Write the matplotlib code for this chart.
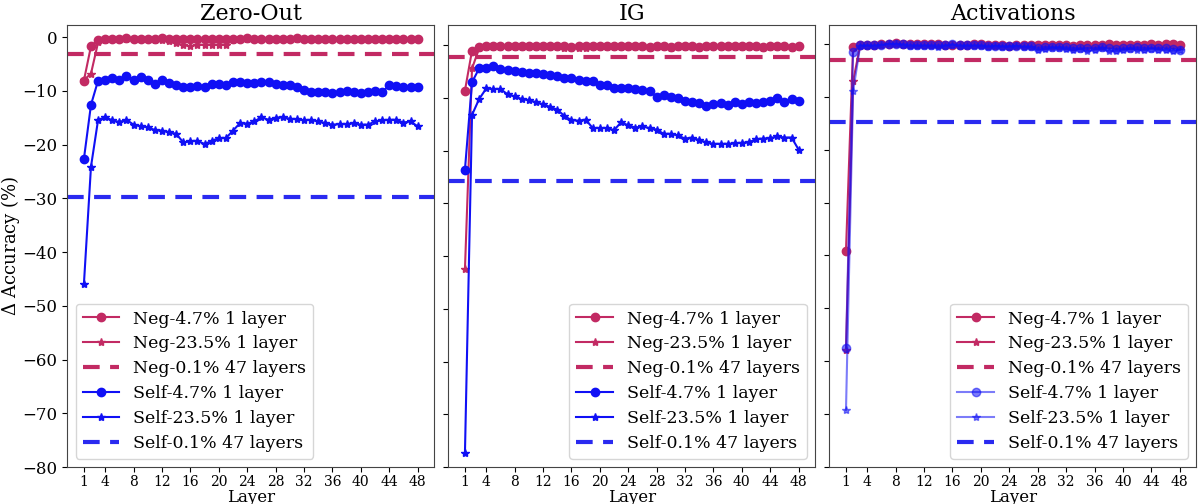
import numpy as np
import matplotlib
matplotlib.use("Agg")
import matplotlib.pyplot as plt


# --------------------------------------------------
# Data
# --------------------------------------------------

layers = list(range(1, 49))
xticks = [1, 4, 8, 12, 16, 20, 24, 28, 32, 36, 40, 44, 48]
titles = ["Zero-Out", "IG", "Activations"]

# Zero-Out
zo_neg_47 = [-8.1, -1.7, -0.6, -0.3, -0.3, -0.3, -0.2, -0.3, -0.3, -0.3,
             -0.3, -0.2, -0.3, -0.3, -0.3, -0.4, -0.3, -0.3, -0.4, -0.4,
             -0.3, -0.3, -0.4, -0.2, -0.3, -0.3, -0.4, -0.3, -0.3, -0.3,
             -0.2, -0.4, -0.3, -0.3, -0.3, -0.3, -0.3, -0.3, -0.3, -0.3,
             -0.3, -0.3, -0.3, -0.3, -0.3, -0.3, -0.3, -0.3]
zo_neg_235 = [-8.0, -6.8, -1.0, -0.5, -0.4, -0.4, -0.4, -0.4, -0.4, -0.4,
              -0.5, -0.5, -0.8, -1.2, -1.5, -1.7, -1.4, -1.5, -1.4, -1.5,
              -1.4, -0.6, -0.4, -0.4, -0.4, -0.4, -0.5, -0.4, -0.4, -0.4,
              -0.4, -0.4, -0.4, -0.4, -0.4, -0.4, -0.4, -0.4, -0.4, -0.4,
              -0.4, -0.4, -0.4, -0.4, -0.4, -0.4, -0.4, -0.4]
zo_self_47 = [-22.7, -12.6, -8.1, -8.0, -7.7, -7.9, -7.2, -8.0, -7.5, -8.0,
              -8.7, -8.0, -8.5, -9.0, -9.3, -9.3, -9.1, -9.3, -8.8, -8.8,
              -8.9, -8.3, -8.3, -8.6, -8.5, -8.4, -8.4, -8.8, -8.9, -9.0,
              -9.3, -9.9, -10.2, -10.3, -10.3, -10.5, -10.2, -10.0, -10.2, -10.4,
              -10.3, -10.1, -10.2, -9.0, -9.1, -9.3, -9.3, -9.2]
zo_self_235 = [-46.0, -24.1, -15.4, -14.9, -15.5, -15.8, -15.4, -16.3, -16.6, -16.8,
               -17.3, -17.4, -17.7, -18.0, -19.6, -19.4, -19.3, -19.9, -19.3, -18.8,
               -18.8, -17.4, -16.0, -16.1, -15.7, -14.9, -15.4, -15.0, -14.9, -15.2,
               -15.3, -15.5, -15.4, -15.7, -16.0, -16.3, -16.2, -16.2, -16.0, -16.3,
               -16.3, -15.7, -15.5, -15.4, -15.4, -15.9, -15.7, -16.6]
zo_neg_all = -3.1
zo_self_all = -29.8

# IG
ig_neg_47 = [-8.6, -1.0, -0.3, -0.2, -0.2, -0.2, -0.2, -0.2, -0.2, -0.2,
             -0.2, -0.2, -0.2, -0.2, -0.2, -0.3, -0.2, -0.2, -0.2, -0.2,
             -0.2, -0.2, -0.2, -0.2, -0.2, -0.2, -0.3, -0.2, -0.2, -0.3,
             -0.2, -0.1, -0.2, -0.3, -0.2, -0.2, -0.2, -0.2, -0.2, -0.2,
             -0.2, -0.2, -0.3, -0.2, -0.2, -0.2, -0.3, -0.2]
ig_neg_235 = [-42.5, -4.4, -0.6, -0.4, -0.4, -0.4, -0.4, -0.4, -0.4, -0.4,
              -0.4, -0.4, -0.4, -0.4, -0.5, -0.5, -0.5, -0.5, -0.4, -0.4,
              -0.4, -0.4, -0.4, -0.4, -0.4, -0.4, -0.5, -0.4, -0.4, -0.5,
              -0.4, -0.4, -0.4, -0.5, -0.4, -0.4, -0.4, -0.4, -0.4, -0.4,
              -0.4, -0.4, -0.5, -0.4, -0.4, -0.4, -0.5, -0.4]
ig_self_47 = [-23.6, -7.0, -4.4, -4.4, -4.0, -4.55, -4.75, -4.9, -5.05, -5.2,
              -5.25, -5.4, -5.6, -5.8, -6.3, -6.3, -6.5, -6.8, -6.8, -7.5,
              -7.5, -8.1, -8.2, -8.2, -8.3, -8.4, -8.7, -9.8, -9.5, -9.8,
              -10.0, -10.6, -10.8, -10.9, -11.5, -11.1, -10.9, -11.3, -10.7, -11.1,
              -10.8, -10.9, -10.8, -10.5, -10.0, -10.8, -10.1, -10.6]
ig_self_235 = [-77.4, -13.2, -10.2, -8.2, -8.3, -8.3, -9.3, -9.7, -10.2, -10.4,
               -10.8, -11.2, -11.7, -12.2, -13.4, -14.2, -14.3, -14.1, -15.7, -15.7,
               -15.7, -16.1, -14.6, -15.2, -15.6, -15.4, -15.7, -16.0, -16.8, -16.8,
               -17.1, -17.7, -17.5, -18.0, -18.4, -18.7, -18.7, -18.7, -18.6, -18.5,
               -18.4, -17.8, -17.7, -17.6, -17.3, -17.5, -17.5, -19.8]
ig_neg_all = -2.2
ig_self_all = -25.8

# Activations
act_neg_47 = [-39.1, -0.6, -0.3, -0.3, -0.2, 0.0, 0.0, 0.1, 0.0, -0.1,
              -0.1, -0.1, -0.1, -0.1, -0.2, -0.3, -0.2, -0.2, -0.1, -0.1,
              -0.2, -0.2, -0.3, -0.4, -0.3, -0.3, -0.2, -0.2, -0.2, -0.3,
              -0.3, -0.2, -0.5, -0.3, -0.3, -0.2, -0.2, -0.1, -0.2, -0.2,
              -0.3, -0.2, -0.2, -0.1, -0.2, -0.1, -0.1, -0.3]
act_neg_235 = [-57.8, -7.1, -0.3, -0.3, -0.3, -0.1, 0.0, 0.0, 0.0, -0.2,
               -0.2, -0.2, -0.2, -0.2, -0.3, -0.3, -0.3, -0.2, -0.2, -0.2,
               -0.3, -0.3, -0.3, -0.4, -0.4, -0.3, -0.3, -0.4, -0.3, -0.3,
               -0.4, -0.4, -0.5, -0.4, -0.4, -0.3, -0.4, -0.3, -0.3, -0.3,
               -0.4, -0.3, -0.3, -0.3, -0.3, -0.3, -0.3, -0.4]
act_self_47 = [-57.5, -1.6, -0.3, -0.3, -0.3, -0.2, 0.0, 0.0, -0.1, -0.2,
               -0.3, -0.3, -0.3, -0.3, -0.3, -0.1, -0.3, -0.3, -0.3, -0.3,
               -0.4, -0.4, -0.4, -0.4, -0.4, -0.5, -0.5, -0.8, -0.6, -0.6,
               -0.6, -0.7, -0.8, -0.9, -0.8, -0.8, -0.7, -0.9, -1.0, -0.9,
               -0.8, -0.7, -0.8, -0.8, -0.8, -0.9, -1.0, -1.1]
act_self_235 = [-69.2, -9.0, -0.4, -0.4, -0.5, -0.3, -0.1, -0.1, -0.3, -0.5,
                -0.5, -0.4, -0.5, -0.7, -0.4, -0.2, -0.5, -0.5, -0.4, -0.5,
                -0.6, -0.5, -0.6, -0.6, -0.5, -0.7, -0.7, -1.2, -1.0, -0.8,
                -0.9, -1.0, -1.2, -1.0, -1.4, -1.1, -0.9, -1.3, -1.4, -1.2,
                -1.0, -1.1, -1.2, -1.0, -1.1, -1.2, -1.3, -1.2]
act_neg_all = -3.0
act_self_all = -14.7

y_tops = [2.2, 3.8, 3.5]


# --------------------------------------------------
# Style
# --------------------------------------------------

NEG = "#c22a63"
SELF = "#1010f5"
SELF_DASH = "#2a2af0"

plt.rcParams["font.family"] = "DejaVu Serif"
plt.rcParams["mathtext.fontset"] = "dejavuserif"


def draw_panel(ax, neg47, neg235, negall, self47, self235, selfall,
               self_alpha=1.0):

    ax.plot(layers, neg47, color=NEG, marker="o", markersize=6,
            linewidth=1.5, label="Neg-4.7% 1 layer")
    ax.plot(layers, neg235, color=NEG, marker="*", markersize=6,
            linewidth=1.5, label="Neg-23.5% 1 layer")
    ax.axhline(negall, color=NEG, linestyle="--", linewidth=3,
               dashes=(4, 2.5), label="Neg-0.1% 47 layers")
    ax.plot(layers, self47, color=SELF, marker="o", markersize=6,
            linewidth=1.5, alpha=self_alpha, label="Self-4.7% 1 layer")
    ax.plot(layers, self235, color=SELF, marker="*", markersize=6,
            linewidth=1.5, alpha=self_alpha, label="Self-23.5% 1 layer")
    ax.axhline(selfall, color=SELF_DASH, linestyle="--", linewidth=3,
               dashes=(4, 2.5), label="Self-0.1% 47 layers")


def main():

    fig, axes = plt.subplots(1, 3, figsize=(12, 5.04), dpi=100)

    panels = [
        (zo_neg_47, zo_neg_235, zo_neg_all,
         zo_self_47, zo_self_235, zo_self_all, 1.0),
        (ig_neg_47, ig_neg_235, ig_neg_all,
         ig_self_47, ig_self_235, ig_self_all, 1.0),
        (act_neg_47, act_neg_235, act_neg_all,
         act_self_47, act_self_235, act_self_all, 0.55),
    ]

    for i, ax in enumerate(axes):

        d = panels[i]
        draw_panel(ax, *d[:6], self_alpha=d[6])

        ax.set_title(titles[i], fontsize=16, pad=3)
        ax.set_xticks(xticks)
        ax.tick_params(axis="x", labelsize=10, pad=2)
        ax.tick_params(axis="y", labelsize=12)
        ax.set_xlabel("Layer", fontsize=12, labelpad=0)
        ax.set_ylim(-80, y_tops[i])
        ax.set_yticks(np.arange(-80, 1, 10))

        for s in ax.spines.values():
            s.set_color("#444444")

        if i == 0:
            ax.set_ylabel(r"$\Delta$ Accuracy (%)", fontsize=13, labelpad=0)
            loc = "lower left"
        else:
            ax.set_yticklabels([])
            loc = "lower right"

        ax.legend(loc=loc, fontsize=12.5, handlelength=2.1,
                  labelspacing=0.45, borderpad=0.4)

    plt.subplots_adjust(left=0.056, right=0.997, top=0.95,
                        bottom=0.073, wspace=0.038)

    plt.savefig("out.png", dpi=100)
    plt.close()


if __name__ == "__main__":
    main()
